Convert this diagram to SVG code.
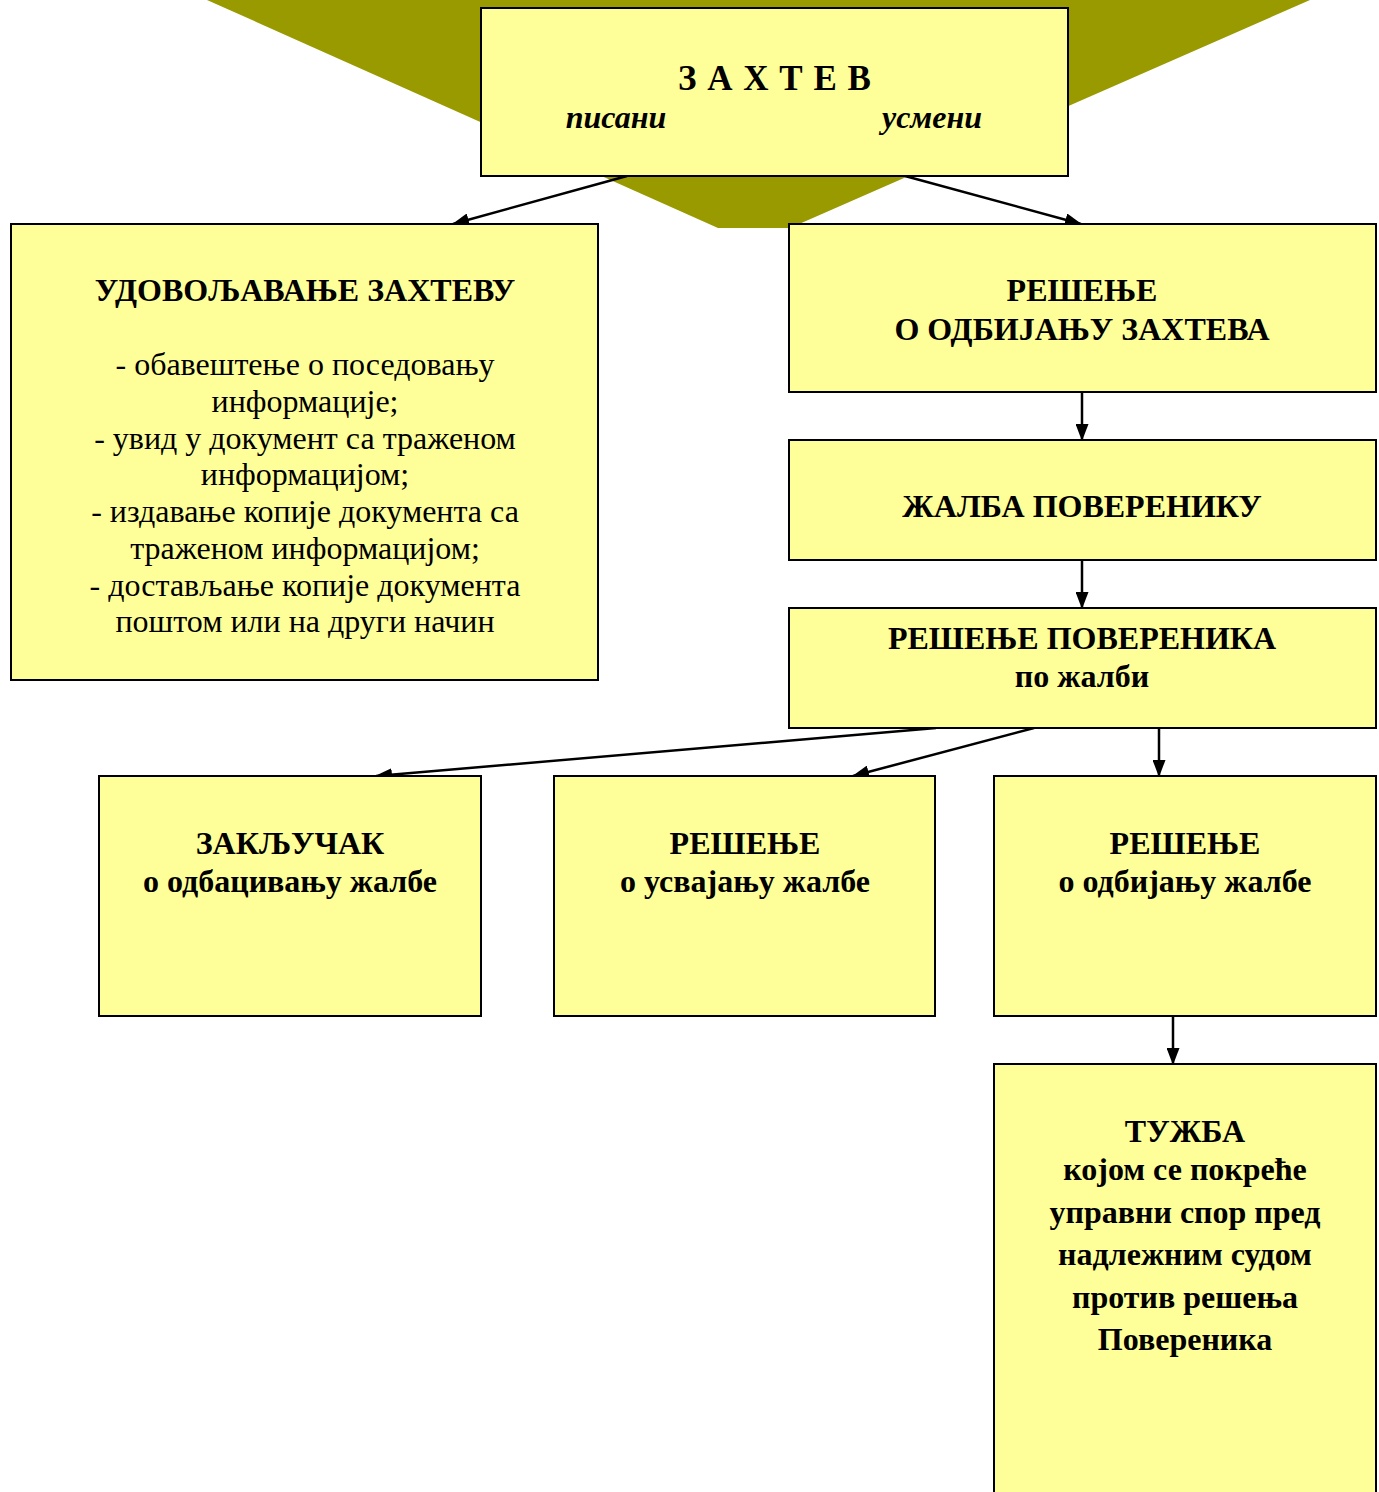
<svg xmlns="http://www.w3.org/2000/svg" width="1379" height="1492" viewBox="0 0 1379 1492">
<defs>
<marker id="ah" markerWidth="17" markerHeight="13" refX="16" refY="6.5" orient="auto" markerUnits="userSpaceOnUse" viewBox="0 0 17 13">
<path d="M0,0 L17,6.5 L0,13 Z" fill="#000"/>
</marker>
<style>
.box{fill:#ffff99;stroke:#000;stroke-width:2}
.t{font-family:"Liberation Serif","Times New Roman",serif;font-size:32px;fill:#000;text-anchor:middle}
.b{font-weight:bold}
.i{font-style:italic}
.c{stroke:#000;stroke-width:2.5;fill:none;marker-end:url(#ah)}
</style>
</defs>
<rect width="1379" height="1492" fill="#fff"/>
<polygon points="207,0 1310,0 790,228 718,228" fill="#999900"/>
<g id="connectors">
<line class="c" x1="627" y1="176" x2="453" y2="224"/>
<line class="c" x1="905" y1="176" x2="1081" y2="224"/>
<line class="c" x1="1082" y1="392" x2="1082" y2="440"/>
<line class="c" x1="1082" y1="560" x2="1082" y2="608"/>
<line class="c" x1="936" y1="728" x2="376" y2="776"/>
<line class="c" x1="1034" y1="728" x2="853" y2="776"/>
<line class="c" x1="1159" y1="728" x2="1159" y2="776"/>
<line class="c" x1="1173" y1="1016" x2="1173" y2="1064"/>
</g>
<g id="zahtev">
<rect class="box" x="481" y="8" width="587" height="168"/>
<text class="t b" x="775" y="90" style="font-size:35px;letter-spacing:1px">З А Х Т Е В</text>
<text class="t b i" x="616" y="128">писани</text>
<text class="t b i" x="932" y="128">усмени</text>
</g>
<g id="udovoljavanje">
<rect class="box" x="11" y="224" width="587" height="456"/>
<text class="t b" x="305" y="301">УДОВОЉАВАЊЕ ЗАХТЕВУ</text>
<text class="t" x="305" y="375">- обавештење о поседовању</text>
<text class="t" x="305" y="412">информације;</text>
<text class="t" x="305" y="449">- увид у документ са траженом</text>
<text class="t" x="305" y="485">информацијом;</text>
<text class="t" x="305" y="522">- издавање копије документа са</text>
<text class="t" x="305" y="559">траженом информацијом;</text>
<text class="t" x="305" y="596">- достављање копије документа</text>
<text class="t" x="305" y="632">поштом или на други начин</text>
</g>
<g id="resenje-odbijanje">
<rect class="box" x="789" y="224" width="587" height="168"/>
<text class="t b" x="1082" y="301">РЕШЕЊЕ</text>
<text class="t b" x="1082" y="340">О ОДБИЈАЊУ ЗАХТЕВА</text>
</g>
<g id="zalba">
<rect class="box" x="789" y="440" width="587" height="120"/>
<text class="t b" x="1082" y="517">ЖАЛБА ПОВЕРЕНИКУ</text>
</g>
<g id="resenje-poverenika">
<rect class="box" x="789" y="608" width="587" height="120"/>
<text class="t b" x="1082" y="649">РЕШЕЊЕ ПОВЕРЕНИКА</text>
<text class="t b" x="1082" y="687">по жалби</text>
</g>
<g id="zakljucak">
<rect class="box" x="99" y="776" width="382" height="240"/>
<text class="t b" x="290" y="854">ЗАКЉУЧАК</text>
<text class="t b" x="290" y="892">о одбацивању жалбе</text>
</g>
<g id="usvajanje">
<rect class="box" x="554" y="776" width="381" height="240"/>
<text class="t b" x="745" y="854">РЕШЕЊЕ</text>
<text class="t b" x="745" y="892">о усвајању жалбе</text>
</g>
<g id="odbijanje-zalbe">
<rect class="box" x="994" y="776" width="382" height="240"/>
<text class="t b" x="1185" y="854">РЕШЕЊЕ</text>
<text class="t b" x="1185" y="892">о одбијању жалбе</text>
</g>
<g id="tuzba">
<rect class="box" x="994" y="1064" width="382" height="440"/>
<text class="t b" x="1185" y="1142">ТУЖБА</text>
<text class="t b" x="1185" y="1180">којом се покреће</text>
<text class="t b" x="1185" y="1223">управни спор пред</text>
<text class="t b" x="1185" y="1265">надлежним судом</text>
<text class="t b" x="1185" y="1308">против решења</text>
<text class="t b" x="1185" y="1350">Повереника</text>
</g>
</svg>
